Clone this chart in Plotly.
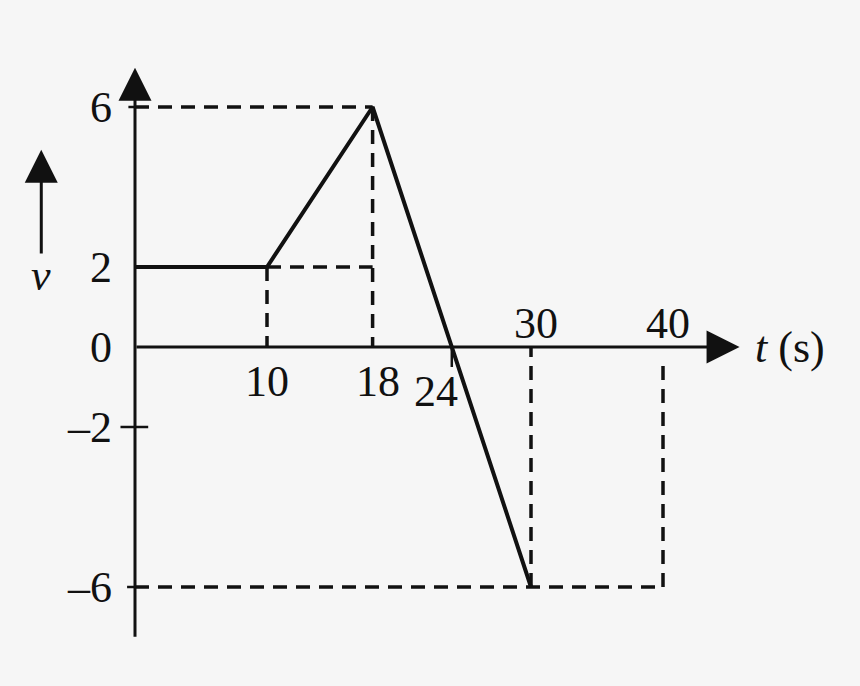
import plotly.graph_objects as go

# velocity-time graph data
t = [0, 10, 18, 24, 30]
v = [2, 2, 6, 0, -6]
t_end = 40
v_ticks = [6, 2, 0, -2, -6]
v_tick_text = ["6", "2", "0", "–2", "–6"]
t_ticks_below = [10, 18, 24]
t_ticks_above = [30, 40]

INK = "#111111"
BG = "#f6f6f6"
FONT = "Liberation Serif"

fig = go.Figure()

# dashed guide lines (projections of the corners onto the axes)
v_max, v_min = max(v), min(v)
t_peak = t[v.index(v_max)]
t_trough = t[v.index(v_min)]
gx = [0, t_peak, None, t_peak, t_peak, None, t[1], t_peak, None, t[1], t[1], None,
      t_trough, t_trough, None, t_end, t_end, None, 0, t_trough, t_end, t_end]
gy = [v_max, v_max, None, v_max, 0, None, v[1], v[1], None, v[1], 0, None,
      v_min, 0, None, v_min, -0.3, None, v_min, v_min, v_min, v_min]
fig.add_trace(go.Scatter(x=gx, y=gy, mode="lines", hoverinfo="skip",
                         line=dict(color=INK, width=3.5, dash="14px,9px")))

# the graph itself
fig.add_trace(go.Scatter(x=t, y=v, mode="lines", hoverinfo="skip",
                         line=dict(color=INK, width=4)))

# small tick marks
fig.add_trace(go.Scatter(x=[-1.1, 1.0, None, -0.6, 0, None, 24, 24, None, -0.5, 0],
                         y=[-2, -2, None, -6, -6, None, 0, -0.5, None, 6, 6],
                         mode="lines", hoverinfo="skip",
                         line=dict(color=INK, width=2.5)))

# axes with arrowheads
fig.add_annotation(x=45.8, y=0, ax=0, ay=0, axref="x", ayref="y",
                   showarrow=True, arrowhead=2, arrowsize=2.2, arrowwidth=3,
                   arrowcolor=INK, text="")
fig.add_annotation(x=0, y=6.98, ax=0, ay=-7.28, axref="x", ayref="y",
                   showarrow=True, arrowhead=2, arrowsize=2.2, arrowwidth=3,
                   arrowcolor=INK, text="")
# small arrow beside the v label
fig.add_annotation(x=-7.1, y=4.93, ax=-7.1, ay=2.3, axref="x", ayref="y",
                   showarrow=True, arrowhead=2, arrowsize=2.2, arrowwidth=3,
                   arrowcolor=INK, text="")

lbl = dict(family=FONT, size=44, color=INK)

# v tick labels
for val, txt in zip(v_ticks, v_tick_text):
    fig.add_annotation(x=-1.6, y=val, text=txt, showarrow=False,
                       xanchor="right", yanchor="middle", font=lbl)

# t tick labels
shifts = {10: (0, -34), 18: (5, -34), 24: (-16, -44)}
for val in t_ticks_below:
    dx, dy = shifts[val]
    fig.add_annotation(x=val, y=0, text=str(val), showarrow=False,
                       xshift=dx, yshift=dy, font=lbl)
for val in t_ticks_above:
    fig.add_annotation(x=val, y=0, text=str(val), showarrow=False,
                       xshift=5, yshift=24, font=lbl)

# axis titles
fig.add_annotation(x=46.8, y=0, text="<i>t</i> (s)", showarrow=False,
                   xanchor="left", yanchor="middle", font=lbl)
fig.add_annotation(x=-7.1, y=1.8, text="<i>v</i>", showarrow=False,
                   xanchor="center", yanchor="middle", font=lbl)

fig.update_xaxes(range=[-10.227, 54.924], visible=False, fixedrange=True)
fig.update_yaxes(range=[-8.475, 8.675], visible=False, fixedrange=True)
fig.update_layout(
    width=860, height=686,
    margin=dict(l=0, r=0, t=0, b=0),
    paper_bgcolor=BG, plot_bgcolor=BG,
    showlegend=False,
)

# drop the default page margin so the figure fills the window
fig.write_html("out.html", config={"displayModeBar": False},
               post_script="document.body.style.margin='0';"
                           "document.body.style.overflow='hidden';"
                           f"document.body.style.background='{BG}';")
